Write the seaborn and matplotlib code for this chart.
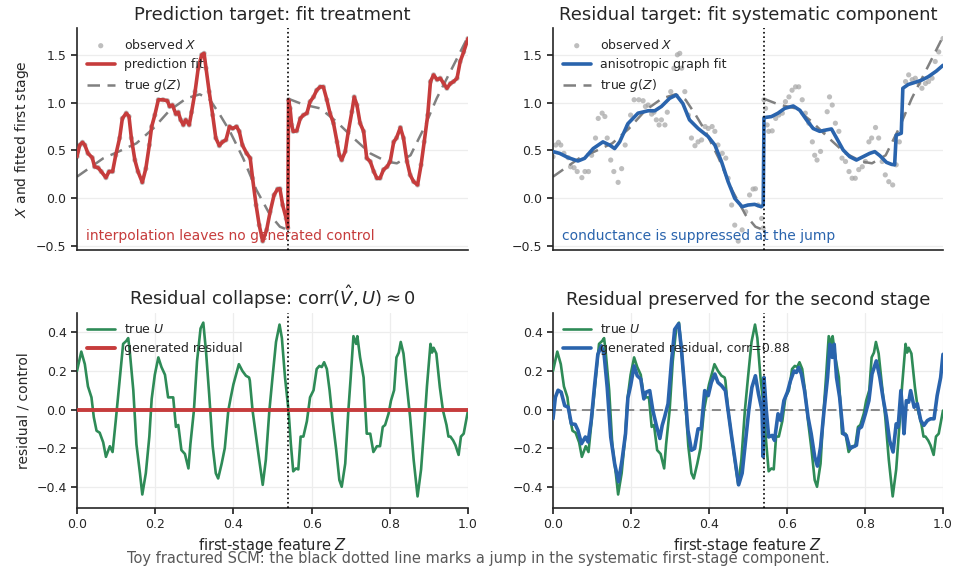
import matplotlib
matplotlib.use("Agg")
import matplotlib.pyplot as plt
import seaborn as sns
import numpy as np
import pandas as pd

# ---------------- data ----------------
JUMP_Z = 0.54

# true residual U
u_z = [0.000, 0.011, 0.020, 0.028, 0.037, 0.043, 0.050, 0.058, 0.067, 0.074,
       0.084, 0.091, 0.099, 0.109, 0.118, 0.126, 0.131, 0.135, 0.144, 0.152,
       0.161, 0.167, 0.176, 0.185, 0.191, 0.199, 0.208, 0.216, 0.225, 0.233,
       0.246, 0.253, 0.259, 0.267, 0.276, 0.285, 0.290, 0.299, 0.307, 0.316,
       0.323, 0.330, 0.338, 0.347, 0.355, 0.361, 0.370, 0.378, 0.387, 0.393,
       0.400, 0.408, 0.414, 0.423, 0.432, 0.440, 0.442, 0.449, 0.458, 0.466,
       0.475, 0.483, 0.492, 0.500, 0.509, 0.518, 0.524, 0.532, 0.541, 0.547,
       0.553, 0.560, 0.566, 0.572, 0.579, 0.588, 0.596, 0.605, 0.613, 0.620,
       0.626, 0.632, 0.639, 0.646, 0.654, 0.663, 0.671, 0.677, 0.686, 0.694,
       0.700, 0.707, 0.714, 0.717, 0.724, 0.733, 0.741, 0.750, 0.758, 0.767,
       0.775, 0.782, 0.788, 0.797, 0.803, 0.811, 0.817, 0.823, 0.828, 0.835,
       0.844, 0.852, 0.861, 0.871, 0.880, 0.888, 0.895, 0.904, 0.908, 0.912,
       0.919, 0.928, 0.936, 0.945, 0.950, 0.955, 0.962, 0.968, 0.976, 0.982,
       0.989, 1.000]
u_val = [0.20, 0.30, 0.235, 0.12, 0.063, -0.04, -0.11, -0.12, -0.17, -0.245,
         -0.19, -0.22, -0.06, 0.15, 0.34, 0.355, 0.37, 0.30, 0.10, -0.18,
         -0.33, -0.44, -0.33, -0.14, 0.055, 0.18, 0.27, 0.22, 0.18, 0.063,
         0.063, -0.09, -0.08, -0.21, -0.23, -0.305, -0.18, -0.005, 0.25, 0.42,
         0.45, 0.30, 0.08, -0.19, -0.33, -0.357, -0.28, -0.20, -0.005, 0.06,
         0.13, 0.19, 0.235, 0.20, 0.175, 0.166, 0.15, -0.005, -0.14, -0.26,
         -0.39, -0.26, -0.005, 0.166, 0.35, 0.44, 0.37, 0.166, -0.005, -0.18,
         -0.32, -0.305, -0.31, -0.14, -0.14, -0.06, 0.063, 0.10, 0.21, 0.226,
         0.22, 0.245, 0.21, 0.10, -0.06, -0.21, -0.365, -0.40, -0.28, -0.005,
         0.166, 0.38, 0.34, 0.38, 0.27, 0.166, -0.125, -0.125, -0.22, -0.19,
         -0.19, -0.09, -0.08, -0.02, 0.046, 0.10, 0.27, 0.295, 0.35, 0.29,
         0.115, -0.04, -0.26, -0.45, -0.31, -0.09, 0.12, 0.34, 0.295, 0.32,
         0.29, 0.115, -0.005, -0.08, -0.14, -0.14, -0.16, -0.185, -0.235, -0.14,
         -0.125, -0.005]

# observed X (also the interpolating prediction fit)
x_z = [0.000, 0.007, 0.014, 0.020, 0.028, 0.039, 0.045, 0.054, 0.062, 0.074,
       0.082, 0.091, 0.099, 0.109, 0.116, 0.126, 0.133, 0.139, 0.148, 0.156,
       0.167, 0.176, 0.185, 0.191, 0.199, 0.208, 0.220, 0.231, 0.237, 0.244,
       0.253, 0.259, 0.265, 0.272, 0.278, 0.287, 0.293, 0.302, 0.310, 0.319,
       0.325, 0.330, 0.338, 0.347, 0.355, 0.364, 0.372, 0.381, 0.390, 0.398,
       0.408, 0.415, 0.423, 0.434, 0.443, 0.449, 0.458, 0.466, 0.475, 0.485,
       0.494, 0.504, 0.513, 0.519, 0.526, 0.535, 0.539,
       0.541, 0.545, 0.549, 0.553, 0.562, 0.571, 0.579, 0.588, 0.596, 0.605,
       0.613, 0.622, 0.630, 0.639, 0.647, 0.656, 0.665, 0.671, 0.677, 0.686,
       0.694, 0.703, 0.709, 0.716, 0.724, 0.733, 0.741, 0.750, 0.759, 0.767,
       0.775, 0.784, 0.793, 0.801, 0.810, 0.817, 0.827, 0.835, 0.844, 0.852,
       0.861, 0.871, 0.880, 0.888, 0.897, 0.904, 0.912, 0.921, 0.929, 0.938,
       0.946, 0.955, 0.963, 0.972, 0.980, 0.989, 1.000]
x_val = [0.435, 0.557, 0.585, 0.557, 0.47, 0.425, 0.33, 0.32, 0.28, 0.216,
         0.28, 0.28, 0.45, 0.63, 0.835, 0.89, 0.855, 0.63, 0.40, 0.28,
         0.167, 0.31, 0.557, 0.75, 0.87, 1.03, 1.03, 1.02, 0.96, 0.975,
         0.88, 0.90, 0.82, 0.767, 0.82, 0.767, 0.90, 1.115, 1.36, 1.50,
         1.515, 1.36, 1.115, 0.87, 0.63, 0.55, 0.59, 0.61, 0.75, 0.73,
         0.75, 0.70, 0.557, 0.47, 0.42, 0.21, -0.07, -0.28, -0.447, -0.33,
         -0.14, 0.035, 0.097, 0.10, -0.07, -0.21, -0.31,
         1.03, 0.94, 0.767, 0.70, 0.705, 0.835, 0.87, 0.89, 1.01, 1.06,
         1.13, 1.165, 1.165, 1.03, 0.89, 0.785, 0.59, 0.45, 0.40, 0.49,
         0.70, 0.905, 1.06, 0.975, 0.785, 0.70, 0.42, 0.385, 0.28, 0.21,
         0.21, 0.30, 0.33, 0.385, 0.59, 0.63, 0.74, 0.63, 0.385, 0.245,
         0.174, 0.14, 0.35, 0.59, 0.87, 1.22, 1.29, 1.24, 1.255, 1.20,
         1.15, 1.20, 1.22, 1.255, 1.43, 1.53, 1.67]

# true systematic component g(Z), two pieces around the jump
g_left_z = [0.000, 0.067, 0.110, 0.152, 0.195, 0.237, 0.280, 0.314, 0.340,
            0.366, 0.391, 0.425, 0.459, 0.494, 0.519, 0.539]
g_left = [0.226, 0.418, 0.495, 0.575, 0.73, 0.92, 1.045, 1.087, 1.03,
          0.87, 0.70, 0.418, 0.087, -0.175, -0.297, -0.33]
g_right_z = [0.541, 0.579, 0.622, 0.664, 0.707, 0.750, 0.792, 0.818, 0.853,
             0.887, 0.920, 0.963, 1.000]
g_right = [1.04, 0.98, 0.94, 0.80, 0.63, 0.47, 0.384, 0.366, 0.45,
           0.73, 1.045, 1.39, 1.69]

# anisotropic graph fit
fit_z = [0.000, 0.017, 0.039, 0.064, 0.081, 0.103, 0.128, 0.145, 0.158, 0.171,
         0.192, 0.218, 0.244, 0.261, 0.278, 0.299, 0.316, 0.333, 0.350, 0.372,
         0.398, 0.415, 0.432, 0.449, 0.466, 0.485, 0.500, 0.517, 0.534, 0.539,
         0.541, 0.560, 0.577, 0.594, 0.616, 0.633, 0.650, 0.667, 0.684, 0.701,
         0.714, 0.727, 0.744, 0.761, 0.778, 0.795, 0.812, 0.825, 0.838, 0.855,
         0.868, 0.876, 0.880, 0.893, 0.897, 0.911, 0.927, 0.945, 0.962, 0.983,
         1.000]
fit_val = [0.488, 0.47, 0.425, 0.39, 0.418, 0.52, 0.59, 0.557, 0.52, 0.59,
           0.78, 0.89, 0.915, 0.915, 0.96, 1.045, 1.08, 0.99, 0.82, 0.73,
           0.645, 0.557, 0.384, 0.174, 0.0, -0.088, -0.07, -0.063, -0.088, -0.07,
           0.843, 0.854, 0.89, 0.94, 0.965, 0.92, 0.82, 0.73, 0.70, 0.715,
           0.725, 0.63, 0.505, 0.435, 0.40, 0.435, 0.47, 0.488, 0.446, 0.376,
           0.355, 0.35, 0.66, 0.68, 1.15, 1.19, 1.21, 1.235, 1.27, 1.33,
           1.39]

# generated residual from the anisotropic fit
res_z = [0.000, 0.006, 0.013, 0.021, 0.030, 0.039, 0.047, 0.057, 0.064, 0.073,
         0.083, 0.090, 0.098, 0.107, 0.115, 0.124, 0.131, 0.139, 0.148, 0.158,
         0.168, 0.177, 0.186, 0.192, 0.199, 0.208, 0.216, 0.225, 0.233, 0.239,
         0.248, 0.256, 0.265, 0.274, 0.280, 0.286, 0.295, 0.304, 0.312, 0.322,
         0.329, 0.338, 0.346, 0.355, 0.363, 0.372, 0.380, 0.389, 0.398, 0.406,
         0.415, 0.423, 0.432, 0.442, 0.449, 0.457, 0.468, 0.476, 0.485, 0.493,
         0.502, 0.510, 0.519, 0.527, 0.536, 0.539,
         0.541, 0.547, 0.553, 0.562, 0.568, 0.577, 0.584, 0.592, 0.601, 0.609,
         0.618, 0.624, 0.630, 0.637, 0.645, 0.654, 0.662, 0.671, 0.678, 0.686,
         0.695, 0.704, 0.710, 0.716, 0.721, 0.727, 0.735, 0.744, 0.752, 0.761,
         0.769, 0.778, 0.784, 0.791, 0.801, 0.810, 0.818, 0.829, 0.838, 0.846,
         0.855, 0.863, 0.872, 0.880, 0.885, 0.892, 0.897, 0.900, 0.906, 0.912,
         0.917, 0.926, 0.934, 0.943, 0.951, 0.960, 0.968, 0.977, 0.985, 0.994,
         1.000]
res_val = [-0.048, 0.063, 0.10, 0.09, 0.02, 0.012, -0.074, -0.077, -0.108, -0.177,
           -0.142, -0.168, -0.057, 0.132, 0.286, 0.33, 0.286, 0.115, -0.142, -0.28,
           -0.374, -0.262, -0.125, 0.06, 0.124, 0.226, 0.175, 0.158, 0.055, 0.09,
           0.098, -0.005, -0.082, -0.15, -0.082, -0.04, 0.03, 0.252, 0.415, 0.444,
           0.32, 0.098, -0.108, -0.211, -0.202, -0.10, -0.10, 0.098, 0.072, 0.14,
           0.184, 0.14, 0.124, 0.098, -0.005, -0.125, -0.28, -0.39, -0.33, -0.177,
           -0.005, 0.115, 0.175, 0.08, -0.005, -0.245,
           0.166, -0.005, -0.142, -0.134, -0.16, -0.022, -0.057, 0.046, 0.09, 0.15,
           0.20, 0.192, 0.218, 0.184, 0.098, -0.04, -0.125, -0.245, -0.293, -0.194,
           -0.005, 0.166, 0.338, 0.27, 0.338, 0.166, 0.063, -0.125, -0.134, -0.202,
           -0.194, -0.185, -0.10, -0.09, -0.022, 0.046, 0.184, 0.252, 0.166, 0.063,
           -0.04, -0.16, -0.22, -0.074, -0.09, 0.098, -0.022, -0.125, 0.046, 0.038,
           0.098, 0.012, 0.03, -0.057, -0.082, -0.057, -0.048, -0.048, 0.072, 0.166,
           0.286]

# generated residual of the interpolating predictor (identically zero)
pred_res_z = [0.0, 1.0]
pred_res_val = [0.0, 0.0]

CORR = 0.88

# ---------------- style ----------------
sns.set_theme(style="whitegrid", rc={
    "axes.edgecolor": "0.15",
    "axes.linewidth": 1.2,
    "grid.color": "0.93",
    "grid.linewidth": 0.9,
    "xtick.bottom": True,
    "ytick.left": True,
    "xtick.major.size": 4,
    "ytick.major.size": 4,
    "xtick.color": "0.15",
    "ytick.color": "0.15",
    "xtick.labelsize": 9,
    "ytick.labelsize": 9,
})
plt.rcParams["font.family"] = ["DejaVu Sans"]

RED = "#c63c3c"
BLUE = "#2a64ad"
GREEN = "#2e8b57"
GRAY = "0.5"
DOT = "#a8a8a8"

fig = plt.figure(figsize=(9.56, 5.69), dpi=100)
W, H = 956.0, 569.0
def pos(l, t, r, b):
    return [l / W, 1 - b / H, (r - l) / W, (b - t) / H]

ax_tl = fig.add_axes(pos(77, 28, 468, 250))
ax_tr = fig.add_axes(pos(553, 28, 943, 250))
ax_bl = fig.add_axes(pos(77, 313, 468, 508))
ax_br = fig.add_axes(pos(553, 313, 943, 508))

obs = pd.DataFrame({"z": x_z, "x": x_val})

def draw_g(ax):
    sns.lineplot(x=g_left_z, y=g_left, ax=ax, color=GRAY, lw=1.8, ls=(0, (5, 3)),
                 estimator=None, sort=False, label=r"true $g(Z)$")
    sns.lineplot(x=g_right_z, y=g_right, ax=ax, color=GRAY, lw=1.8, ls=(0, (5, 3)),
                 estimator=None, sort=False)

# ---- top-left ----
ax = ax_tl
sns.scatterplot(data=obs, x="z", y="x", ax=ax, color=DOT, s=14, alpha=0.75,
                edgecolor="none", label=r"observed $X$", zorder=2)
sns.lineplot(data=obs, x="z", y="x", ax=ax, color=RED, lw=2.6, estimator=None,
             sort=False, label="prediction fit", zorder=3)
draw_g(ax)
ax.text(0.022, 0.03, "interpolation leaves no generated control", color=RED,
        fontsize=10, transform=ax.transAxes, ha="left", va="bottom")
ax.set_title("Prediction target: fit treatment", fontsize=13)
ax.set_ylabel(r"$X$ and fitted first stage", fontsize=10)

# ---- top-right ----
ax = ax_tr
sns.scatterplot(data=obs, x="z", y="x", ax=ax, color=DOT, s=14, alpha=0.75,
                edgecolor="none", label=r"observed $X$", zorder=2)
sns.lineplot(x=fit_z, y=fit_val, ax=ax, color=BLUE, lw=2.6, estimator=None,
             sort=False, label="anisotropic graph fit", zorder=3)
draw_g(ax)
ax.text(0.022, 0.03, "conductance is suppressed at the jump", color=BLUE,
        fontsize=10, transform=ax.transAxes, ha="left", va="bottom")
ax.set_title("Residual target: fit systematic component", fontsize=13)
ax.set_ylabel("")

for ax in (ax_tl, ax_tr):
    ax.set_xlim(0, 1)
    ax.set_ylim(-0.54, 1.78)
    ax.set_yticks([-0.5, 0.0, 0.5, 1.0, 1.5])
    ax.set_xticks([])
    ax.set_xlabel("")

# ---- bottom-left ----
ax = ax_bl
sns.lineplot(x=u_z, y=u_val, ax=ax, color=GREEN, lw=1.9, estimator=None,
             sort=False, label=r"true $U$", zorder=3)
sns.lineplot(x=pred_res_z, y=pred_res_val, ax=ax, color=RED, lw=2.8,
             estimator=None, sort=False, label="generated residual", zorder=4)
ax.set_title(r"Residual collapse: $\mathrm{corr}(\hat{V}, U) \approx 0$", fontsize=13)
ax.set_ylabel("residual / control", fontsize=10)

# ---- bottom-right ----
ax = ax_br
ax.axhline(0, color=GRAY, lw=1.3, ls=(0, (5, 3)), zorder=1)
sns.lineplot(x=u_z, y=u_val, ax=ax, color=GREEN, lw=1.9, estimator=None,
             sort=False, label=r"true $U$", zorder=3)
sns.lineplot(x=res_z, y=res_val, ax=ax, color=BLUE, lw=2.6, estimator=None,
             sort=False, label=f"generated residual, corr={CORR:.2f}", zorder=4)
ax.set_title("Residual preserved for the second stage", fontsize=13)
ax.set_ylabel("")

for ax in (ax_bl, ax_br):
    ax.set_xlim(0, 1)
    ax.set_ylim(-0.51, 0.5)
    ax.set_yticks([-0.4, -0.2, 0.0, 0.2, 0.4])
    ax.set_xticks([0.0, 0.2, 0.4, 0.6, 0.8, 1.0])
    ax.set_xlabel(r"first-stage feature $Z$", fontsize=10.5, labelpad=3)

for ax in (ax_tl, ax_tr, ax_bl, ax_br):
    ax.axvline(JUMP_Z, color="black", lw=1.2, ls=":", zorder=5)
    ax.legend(loc="upper left", frameon=False, fontsize=9, handlelength=2.2,
              borderaxespad=0.4)
    sns.despine(ax=ax)

fig.text(0.5, 1 - 559 / H,
         "Toy fractured SCM: the black dotted line marks a jump in the systematic first-stage component.",
         ha="center", va="center", fontsize=10.5, color="0.35")

fig.savefig("out.png", dpi=100)
